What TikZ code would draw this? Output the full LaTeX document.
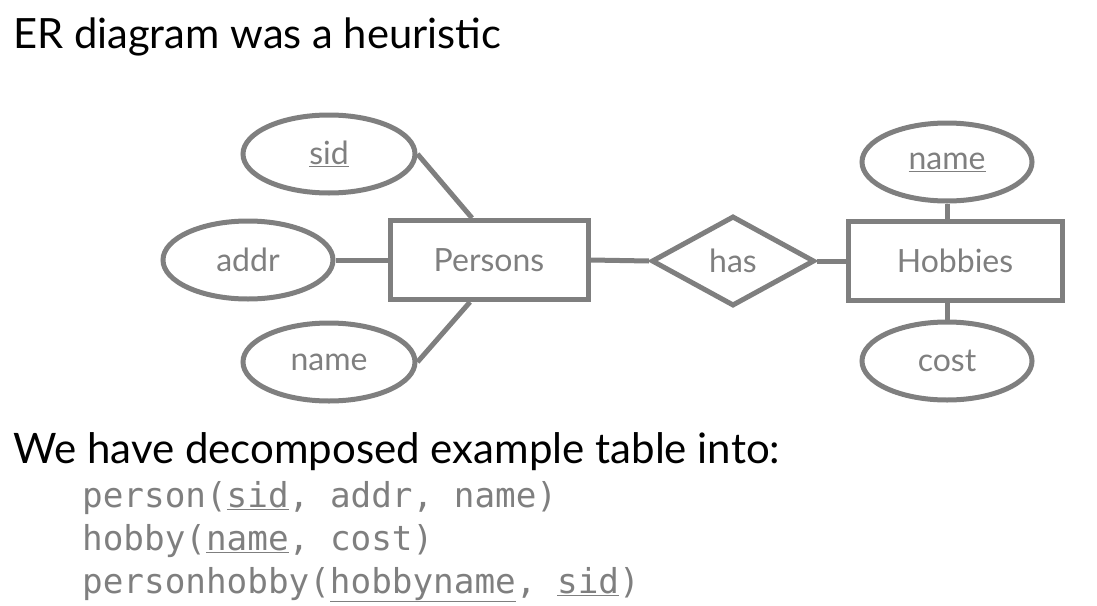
\documentclass[tikz,border=0pt]{standalone}
\usepackage{fontspec}
\setmainfont{Lato}
\setmonofont{DejaVu Sans Mono}
\usetikzlibrary{shapes.geometric}
\definecolor{ergray}{HTML}{7F7F7F}
\tikzset{
  er/.style={draw=ergray, line width=5pt, text=ergray, inner sep=0pt,
             font=\fontsize{32}{36}\selectfont},
  attr/.style={er, ellipse, minimum width=170pt, minimum height=78pt},
  entity/.style={er, rectangle, minimum height=79pt},
  rel/.style={er, diamond, minimum width=163pt, minimum height=90pt},
  link/.style={draw=ergray, line width=5pt},
  heading/.style={anchor=base west, inner sep=0pt, text=black},
  code/.style={anchor=base west, inner sep=0pt, text=ergray,
               font=\ttfamily\fontsize{34.3}{38}\selectfont},
}
\begin{document}
\begin{tikzpicture}[x=1pt,y=-1pt]
\useasboundingbox (0,0) rectangle (1097,605);

\node[heading, font=\fontsize{41.7}{48}\selectfont] (title) at (13,48) {ER diagram was a heuristic};

% entities and relationship
\node[entity, minimum width=198pt] (persons) at (489,260) {Persons};
\node[rel] (has) at (733,261) {has};
\node[entity, minimum width=214pt] (hobbies) at (955,261) {Hobbies};

% attributes of Persons
\node[attr, minimum width=172pt] (sid) at (329,154) {\underline{sid}};
\node[attr] (addr) at (248,260) {addr};
\node[attr, minimum width=172pt] (pname) at (329,362) {name};

% attributes of Hobbies
\node[attr] (hname) at (947,162) {\underline{name}};
\node[attr] (cost) at (947,361) {cost};

% connectors
\draw[link] (sid.east) -- ([xshift=-17pt]persons.north);
\draw[link] (addr.east) -- (persons.west);
\draw[link] (pname.east) -- ([xshift=-19pt]persons.south);
\draw[link] (persons.east) -- (has.west);
\draw[link] (has.east) -- (hobbies.west);
\draw[link] (hname.south) -- (hobbies.north west -| hname.south);
\draw[link] (cost.north) -- (hobbies.south west -| cost.north);

% decomposition
\node[heading, font=\fontsize{42}{48}\selectfont] (decomp) at (13,463) {We have decomposed example table into:};
\node[code] (t1) at (82,507) {person(\underline{sid}, addr, name)};
\node[code] (t2) at (82,550) {hobby(\underline{name}, cost)};
\node[code] (t3) at (82,593) {personhobby(\underline{hobbyname}, \underline{sid})};
\end{tikzpicture}
\end{document}
